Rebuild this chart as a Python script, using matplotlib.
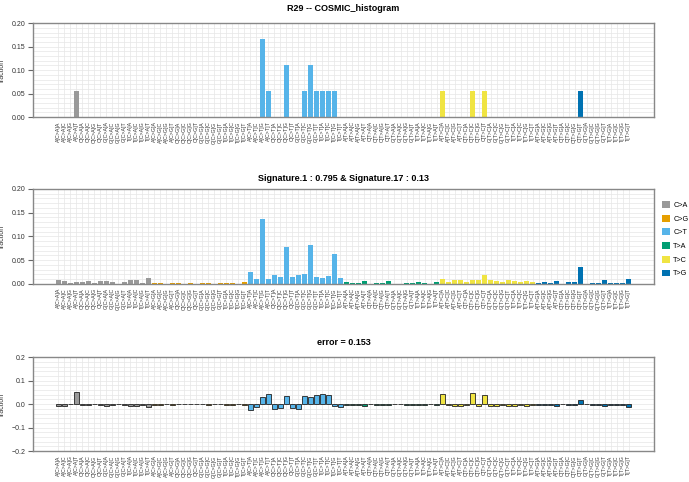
import matplotlib
matplotlib.use("Agg")
import matplotlib.pyplot as plt
import numpy as np
from matplotlib.patches import Patch
from matplotlib.ticker import MultipleLocator


plt.rcParams['font.family'] = ['Liberation Sans', 'DejaVu Sans']

# mutation classes and trinucleotide contexts
mut_types = ["C>A", "C>G", "C>T", "T>A", "T>C", "T>G"]
type_colors = ["#999999", "#E69F00", "#56B4E9", "#009E73", "#F0E442", "#0072B2"]
bases = ["A", "C", "G", "T"]
contexts = [f"{l}[{m}]{r}" for m in mut_types for l in bases for r in bases]

# observed profile of R29
observed = [
    0, 0, 0, 0.0556, 0, 0, 0, 0, 0, 0, 0, 0, 0, 0, 0, 0,
    0, 0, 0, 0, 0, 0, 0, 0, 0, 0, 0, 0, 0, 0, 0, 0,
    0, 0, 0.1667, 0.0556, 0, 0, 0.1111, 0, 0, 0.0556, 0.1111, 0.0556, 0.0556, 0.0556, 0.0556, 0,
    0, 0, 0, 0, 0, 0, 0, 0, 0, 0, 0, 0, 0, 0, 0, 0,
    0.0556, 0, 0, 0, 0, 0.0556, 0, 0.0556, 0, 0, 0, 0, 0, 0, 0, 0,
    0, 0, 0, 0, 0, 0, 0, 0.0556, 0, 0, 0, 0, 0, 0, 0, 0,
]

# reconstruction from Signature.1 and Signature.17
reconstructed = [
    0.0085, 0.0065, 0.001, 0.0045, 0.005, 0.0055, 0.001, 0.0055, 0.007, 0.004, 0.0005, 0.0035, 0.009, 0.0085, 0.002, 0.012,
    0.002, 0.002, 0.0005, 0.002, 0.001, 0.0005, 0.001, 0.0005, 0.001, 0.0015, 0.0005, 0.001, 0.0015, 0.0015, 0.0005, 0.003,
    0.0247, 0.011, 0.137, 0.0105, 0.019, 0.0155, 0.077, 0.015, 0.0197, 0.021, 0.0824, 0.015, 0.0134, 0.016, 0.062, 0.0127,
    0.003, 0.002, 0.002, 0.0065, 0.0005, 0.002, 0.002, 0.0055, 0.0005, 0.0005, 0.0015, 0.002, 0.004, 0.0015, 0.0005, 0.0035,
    0.011, 0.005, 0.0085, 0.0075, 0.004, 0.009, 0.009, 0.018, 0.009, 0.0065, 0.005, 0.009, 0.007, 0.005, 0.0065, 0.005,
    0.002, 0.003, 0.002, 0.0065, 0.0005, 0.004, 0.0035, 0.036, 0.0005, 0.0015, 0.0015, 0.0085, 0.0015, 0.002, 0.002, 0.0105,
]

# residual (observed - reconstructed)
error = [
    -0.0085, -0.0065, -0.001, 0.0511, -0.005, -0.0055, -0.001, -0.0055, -0.007, -0.004, -0.0005, -0.0035, -0.009, -0.0085, -0.002, -0.012,
    -0.002, -0.002, -0.0005, -0.002, -0.001, -0.0005, -0.001, -0.0005, -0.001, -0.0015, -0.0005, -0.001, -0.0015, -0.0015, -0.0005, -0.003,
    -0.0247, -0.011, 0.0297, 0.0451, -0.019, -0.0155, 0.0341, -0.015, -0.0197, 0.0346, 0.0287, 0.0406, 0.0422, 0.0396, -0.0064, -0.0127,
    -0.003, -0.002, -0.002, -0.0065, -0.0005, -0.002, -0.002, -0.0055, -0.0005, -0.0005, -0.0015, -0.002, -0.004, -0.0015, -0.0005, -0.0035,
    0.0446, -0.005, -0.0085, -0.0075, -0.004, 0.0466, -0.009, 0.0376, -0.009, -0.0065, -0.005, -0.009, -0.007, -0.005, -0.0065, -0.005,
    -0.002, -0.003, -0.002, -0.0065, -0.0005, -0.004, -0.0035, 0.0196, -0.0005, -0.0015, -0.0015, -0.0085, -0.0015, -0.002, -0.002, -0.0105,
]

titles = ["R29 -- COSMIC_histogram",
          "Signature.1 : 0.795 & Signature.17 : 0.13",
          "error = 0.153"]

bar_colors = [c for c in type_colors for _ in range(16)]
x = np.arange(len(contexts))

fig = plt.figure(figsize=(6.89, 4.82), dpi=100)
boxes = [[0.048, 0.757, 0.901, 0.195],
         [0.048, 0.411, 0.901, 0.197],
         [0.048, 0.064, 0.901, 0.195]]

for k, (data, title, box) in enumerate(zip([observed, reconstructed, error], titles, boxes)):
    ax = fig.add_axes(box)
    ax.set_axisbelow(True)
    if k == 2:
        ax.bar(x, data, width=0.75, color=bar_colors, edgecolor="#222222", linewidth=0.6)
        ax.set_ylim(-0.2, 0.2)
        ax.yaxis.set_major_locator(MultipleLocator(0.1))
        ax.yaxis.set_minor_locator(MultipleLocator(0.02))
        ax.set_yticklabels([f"{v:.1f}".replace("-", "\u2212") for v in ax.get_yticks()])
    else:
        ax.bar(x, data, width=0.75, color=bar_colors)
        ax.set_ylim(0, 0.2)
        ax.yaxis.set_major_locator(MultipleLocator(0.05))
        ax.yaxis.set_minor_locator(MultipleLocator(0.01))
        ax.set_yticklabels([f"{v:.2f}" for v in ax.get_yticks()])
    ax.set_xlim(-4.2, 99.2)
    ax.set_xticks(x)
    ax.set_xticklabels(contexts, rotation=90, fontsize=3.8, color="#333333")
    ax.tick_params(axis="x", length=0, pad=3)
    ax.tick_params(axis="y", which="major", length=3.5, width=0.8, color="#666666",
                   labelsize=5, labelcolor="#333333", pad=2)
    ax.tick_params(axis="y", which="minor", length=0)
    ax.grid(True, which="both", color="#e6e6e6", linewidth=0.5)
    for sp in ax.spines.values():
        sp.set_color("#888888")
        sp.set_linewidth(1.0)
    ax.set_ylabel("fraction", fontsize=5, color="#333333", labelpad=4)
    ax.set_title(title, fontsize=6.5, fontweight="bold", pad=9 if k != 1 else 6)
    if k == 1:
        handles = [Patch(facecolor=c, label=m) for m, c in zip(mut_types, type_colors)]
        ax.legend(handles=handles, loc="center left", bbox_to_anchor=(1.008, 0.47),
                  frameon=False, fontsize=5.2, handlelength=1.1, handleheight=1.1,
                  handletextpad=0.5, labelspacing=0.8, borderaxespad=0)

fig.savefig("out.png", dpi=100)
